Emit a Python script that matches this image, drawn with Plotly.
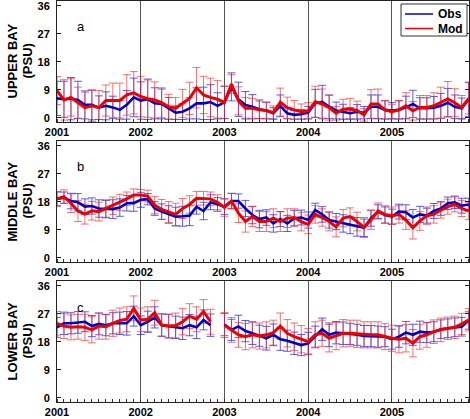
import plotly.graph_objects as go

# ---------------- data (monthly, Jan 2001 - Dec 2005) ----------------
years = [2001, 2002, 2003, 2004, 2005]
y_ticks = [0, 9, 18, 27, 36]
panel_titles = ["UPPER BAY", "MIDDLE BAY", "LOWER BAY"]
panel_letters = ["a", "b", "c"]
legend_names = ["Obs", "Mod"]

obs_upper = [6.3, 6.0, 6.2, 5.8, 4.2, 4.2, 3.3, 3.9, 3.4, 2.6, 4.2, 6.6,
             5.6, 6.0, 4.7, 4.5, 3.1, 1.7, 2.0, 3.1, 4.7, 4.7, 5.1, 3.9,
             5.0, 10.0, 6.0, 4.2, 3.6, 2.8, 2.4, 1.5, 3.9, 1.5, 1.0, 1.2,
             1.7, 4.7, 5.2, 3.6, 2.4, 2.0, 1.5, 2.0, 1.7, 3.6, 3.6, 2.6,
             2.4, 2.6, 3.4, 4.5, 3.1, 3.1, 3.3, 3.9, 4.9, 3.6, 3.1, 6.0]
obs_upper_err = [5.5, 5.8, 6.8, 6.0, 4.5, 4.8, 3.8, 4.5, 3.6, 3.0, 4.6, 6.2,
                 6.0, 6.5, 5.0, 4.8, 3.5, 2.2, 2.5, 3.4, 5.0, 5.2, 5.6, 4.2,
                 5.2, 4.5, 5.5, 4.3, 3.9, 3.0, 2.7, 1.8, 3.5, 1.8, 1.4, 1.5,
                 2.0, 4.5, 5.3, 3.8, 2.7, 2.4, 1.8, 2.3, 2.0, 3.8, 3.8, 2.9,
                 2.6, 2.9, 3.6, 4.4, 3.4, 3.4, 3.6, 4.0, 4.6, 3.8, 3.3, 5.5]
mod_upper = [8.8, 5.8, 6.6, 4.9, 3.3, 3.9, 3.3, 5.6, 5.7, 5.6, 7.4, 8.1,
             6.9, 6.2, 5.8, 4.9, 3.6, 3.1, 4.7, 6.3, 9.7, 7.4, 6.6, 6.0,
             5.0, 10.9, 5.5, 3.1, 3.1, 2.6, 2.4, 1.7, 5.1, 3.3, 2.6, 2.0,
             2.3, 5.2, 4.5, 3.3, 1.5, 2.8, 2.9, 2.4, 1.0, 4.5, 4.5, 2.6,
             2.0, 2.6, 3.9, 2.3, 3.4, 3.4, 3.9, 4.9, 6.1, 4.9, 3.4, 6.3]
mod_upper_err = [4.5, 6.5, 6.0, 5.0, 5.0, 5.0, 5.5, 5.0, 5.5, 5.6, 6.5, 6.8,
                 6.5, 6.0, 5.8, 4.8, 4.0, 3.5, 4.5, 5.2, 6.5, 6.0, 6.2, 6.0,
                 5.2, 3.0, 4.5, 3.5, 3.2, 2.8, 2.6, 2.2, 4.5, 3.4, 3.0, 2.5,
                 2.6, 5.0, 4.8, 4.0, 2.2, 3.2, 3.4, 3.0, 2.0, 4.6, 4.8, 3.0,
                 2.4, 3.0, 4.2, 3.0, 3.8, 3.8, 4.2, 5.0, 5.6, 4.5, 3.8, 5.0]

obs_middle = [19.0, 19.4, 18.3, 17.9, 16.5, 16.7, 15.9, 15.7, 15.7, 16.2, 17.6, 17.6,
              18.7, 18.9, 15.9, 14.9, 14.0, 13.3, 13.4, 13.6, 16.5, 15.1, 17.9, 17.2,
              16.5, 18.3, 18.3, 15.9, 13.8, 12.5, 13.0, 11.1, 12.5, 11.1, 12.8, 13.0,
              12.2, 15.4, 14.0, 12.2, 11.7, 11.1, 10.6, 10.0, 9.7, 12.8, 14.9, 13.8,
              13.3, 14.9, 14.7, 13.0, 14.0, 13.6, 15.1, 15.9, 17.6, 17.9, 16.8, 17.2]
obs_middle_err = [2.2, 1.8, 2.5, 2.8, 2.5, 2.6, 2.8, 2.8, 3.0, 2.8, 2.5, 2.6,
                  2.4, 1.8, 2.2, 2.5, 2.8, 3.0, 3.2, 3.2, 2.4, 2.8, 2.4, 2.2,
                  2.5, 2.5, 2.3, 2.6, 2.8, 2.8, 2.5, 2.8, 2.4, 2.6, 2.5, 2.4,
                  2.6, 2.2, 2.5, 2.6, 2.6, 2.8, 2.8, 3.0, 2.8, 2.6, 2.2, 2.6,
                  2.4, 2.4, 2.4, 2.6, 2.6, 2.4, 2.4, 2.2, 2.0, 2.0, 2.4, 2.0]
mod_middle = [19.0, 19.7, 17.6, 15.1, 14.1, 15.2, 14.9, 15.9, 16.8, 17.9, 19.0, 20.2,
              20.2, 19.9, 17.0, 15.6, 14.7, 14.0, 15.9, 17.2, 19.2, 19.2, 19.0, 17.9,
              16.2, 18.3, 14.4, 11.7, 13.3, 11.7, 11.7, 12.8, 11.7, 12.8, 13.0, 11.7,
              10.8, 14.0, 13.0, 11.7, 10.0, 12.8, 13.3, 11.7, 9.8, 12.2, 15.1, 14.0,
              13.6, 14.0, 12.2, 9.7, 11.9, 13.6, 14.0, 15.4, 16.5, 17.2, 15.9, 15.1]
mod_middle_err = [2.4, 2.2, 3.0, 3.4, 3.2, 3.0, 3.0, 2.8, 2.8, 2.6, 2.2, 2.0,
                  1.8, 1.9, 2.8, 3.2, 3.4, 3.6, 3.2, 2.8, 2.2, 2.2, 2.2, 2.4,
                  2.8, 2.4, 3.0, 3.4, 3.2, 3.2, 3.2, 3.0, 3.2, 3.0, 2.8, 3.0,
                  3.0, 2.8, 2.8, 3.0, 3.2, 2.8, 2.8, 3.0, 3.2, 3.0, 2.6, 2.8,
                  2.8, 2.8, 3.0, 3.6, 3.0, 2.8, 2.8, 2.6, 2.4, 2.4, 2.6, 2.8]

obs_lower = [22.7, 24.0, 24.0, 24.3, 24.5, 23.1, 23.8, 23.4, 24.0, 24.0, 24.0, 26.3,
             23.4, 24.5, 25.9, 23.4, 23.1, 22.7, 22.4, 23.4, 22.7, 25.1, 23.4, None,
             23.6, 21.9, 23.0, 21.5, 20.8, 20.0, 19.2, 20.3, 18.9, 18.4, 17.6, 17.0,
             17.6, 19.7, 22.1, 20.3, 21.0, 20.8, 20.6, 20.3, 19.9, 19.9, 19.7, 19.7,
             18.9, 19.7, 21.0, 20.3, 21.3, 21.0, 21.3, 22.1, 22.4, 22.7, 22.9, 24.9]
obs_lower_err = [3.2, 3.6, 3.4, 3.5, 3.2, 3.4, 3.5, 3.4, 3.4, 3.6, 3.8, 3.2,
                 3.0, 3.4, 3.4, 3.6, 3.8, 3.6, 3.6, 3.4, 3.6, 3.2, 3.6, 0.0,
                 3.6, 3.4, 3.6, 3.4, 3.6, 3.4, 3.8, 3.5, 3.6, 3.4, 3.6, 3.4,
                 3.5, 3.4, 3.6, 3.8, 3.6, 3.6, 3.4, 3.4, 3.4, 3.4, 3.4, 3.2,
                 3.2, 3.4, 3.6, 3.4, 3.4, 3.2, 3.2, 3.0, 3.0, 3.0, 3.0, 2.8]
mod_lower = [24.0, 23.1, 22.7, 22.9, 22.7, 21.9, 23.1, 22.9, 24.0, 24.9, 25.3, 28.8,
             25.1, 25.3, 27.4, 23.5, 23.1, 23.3, 24.5, 26.3, 25.3, 27.8, 24.5, None,
             23.4, 21.9, 20.3, 19.7, 20.3, 19.9, 20.3, 21.0, 23.1, 20.8, 19.7, 18.9,
             18.1, 20.3, 20.8, 19.2, 19.9, 20.8, 20.8, 20.6, 20.3, 20.3, 20.3, 19.7,
             19.2, 18.9, 19.2, 17.6, 19.7, 20.3, 21.3, 21.9, 22.4, 22.7, 23.8, 25.1]
mod_lower_err = [3.8, 4.0, 4.0, 4.0, 4.2, 4.2, 4.2, 4.0, 4.2, 4.0, 4.0, 4.0,
                 3.8, 4.0, 4.0, 3.6, 3.8, 4.0, 4.2, 4.0, 4.0, 3.8, 4.0, 0.0,
                 4.0, 4.0, 4.0, 4.2, 4.2, 4.2, 4.2, 4.0, 4.2, 4.4, 4.4, 4.4,
                 4.2, 4.2, 4.2, 4.4, 4.4, 4.4, 4.2, 4.4, 4.2, 4.2, 4.2, 4.2,
                 4.2, 4.4, 4.4, 4.4, 4.0, 4.0, 3.8, 3.8, 3.6, 3.6, 3.4, 3.6]

months = [2001 + m / 12 for m in range(60)]

panels = [
    (obs_upper, obs_upper_err, mod_upper, mod_upper_err),
    (obs_middle, obs_middle_err, mod_middle, mod_middle_err),
    (obs_lower, obs_lower_err, mod_lower, mod_lower_err),
]

BLUE = "#0000C8"
RED = "#EE0000"
BLUE_ERR = "rgba(40,40,230,0.75)"
RED_ERR = "rgba(240,40,40,0.65)"
FONT = "Arial, Liberation Sans, sans-serif"

W, H = 470, 419
L, R, T, B = 57, 1, 1, 17
ph = H - T - B
pw = W - L - R


def py(px):
    return (H - B - px) / ph


def pxx(px):
    return (px - L) / pw


fig = go.Figure()

for k, (obs, obs_err, mod, mod_err) in enumerate(panels):
    xa = "x" if k == 0 else f"x{k+1}"
    ya = "y" if k == 0 else f"y{k+1}"
    for vals, errs, col in ((obs, obs_err, BLUE_ERR), (mod, mod_err, RED_ERR)):
        fig.add_trace(go.Scatter(
            x=months, y=vals, mode="markers",
            marker=dict(size=1, color="rgba(0,0,0,0)"),
            error_y=dict(type="data", array=errs, visible=True,
                         color=col, thickness=1, width=4),
            xaxis=xa, yaxis=ya, showlegend=False, hoverinfo="skip"))
    fig.add_trace(go.Scatter(
        x=months, y=obs, mode="lines", name=legend_names[0],
        line=dict(color=BLUE, width=2.6), connectgaps=False,
        xaxis=xa, yaxis=ya, showlegend=False))
    fig.add_trace(go.Scatter(
        x=months, y=mod, mode="lines", name=legend_names[1],
        line=dict(color=RED, width=3), connectgaps=False,
        xaxis=xa, yaxis=ya, showlegend=False))

domains = [(py(122), 1.0), (py(262), py(141)), (0.0, py(281))]

layout = dict(
    width=W, height=H,
    margin=dict(l=L, r=R, t=T, b=B, autoexpand=False),
    paper_bgcolor="white", plot_bgcolor="white",
    font=dict(family=FONT, size=11, color="black"),
    showlegend=False,
)

for k in range(3):
    xs = "xaxis" if k == 0 else f"xaxis{k+1}"
    ys = "yaxis" if k == 0 else f"yaxis{k+1}"
    ya = "y" if k == 0 else f"y{k+1}"
    xa = "x" if k == 0 else f"x{k+1}"
    layout[xs] = dict(
        domain=[0, 1], anchor=ya, range=[2001, 2005.92], automargin=False,
        tickvals=years, ticktext=[str(y) for y in years],
        tickfont=dict(size=11, weight="bold"), ticklabeloverflow="allow",
        ticks="", showgrid=True, gridcolor="#555", gridwidth=1,
        showline=True, linecolor="#222", linewidth=1, mirror=True,
        minor=dict(dtick=1 / 12, tick0=2001, ticks="inside", ticklen=3,
                   tickcolor="#333", showgrid=False),
        zeroline=False,
    )
    layout[ys] = dict(
        domain=list(domains[k]), anchor=xa, range=[-1.3, 37.6], automargin=False,
        tickvals=y_ticks, tickfont=dict(size=11, weight="bold"),
        ticklabeloverflow="allow",
        ticks="inside", ticklen=4, tickcolor="#222",
        showgrid=False, zeroline=False,
        showline=True, linecolor="#222", linewidth=1, mirror="ticks",
        ticklabelstandoff=4,
    )

fig.update_layout(**layout)

letter_y = [py(26), py(166), py(307)]
center_y = [py(61.5), py(201.5), py(341.5)]

for k in range(3):
    fig.add_annotation(x=pxx(80.5), y=letter_y[k], xref="paper", yref="paper",
                       text=panel_letters[k], showarrow=False,
                       xanchor="center", yanchor="middle",
                       font=dict(size=13, family=FONT))
    fig.add_annotation(x=pxx(12), y=center_y[k], xref="paper", yref="paper",
                       text="<b>" + panel_titles[k] + "</b>", textangle=-90,
                       xanchor="center", yanchor="middle",
                       showarrow=False, font=dict(size=13, family=FONT))
    fig.add_annotation(x=pxx(27), y=center_y[k], xref="paper", yref="paper",
                       text="<b>(PSU)</b>", textangle=-90,
                       xanchor="center", yanchor="middle",
                       showarrow=False, font=dict(size=13, family=FONT))

# legend box (top panel)
fig.add_shape(type="rect", xref="paper", yref="paper",
              x0=pxx(401), x1=pxx(467), y0=py(36), y1=py(4),
              line=dict(color="#333", width=1), fillcolor="white", layer="above")
for name, col, ypx in ((legend_names[0], BLUE, 14), (legend_names[1], RED, 28.5)):
    fig.add_shape(type="line", xref="paper", yref="paper",
                  x0=pxx(405), x1=pxx(433), y0=py(ypx), y1=py(ypx),
                  line=dict(color=col, width=1.5), layer="above")
    fig.add_annotation(x=pxx(436), y=py(ypx), xref="paper", yref="paper",
                       text="<b>" + name + "</b>", showarrow=False,
                       xanchor="left", yanchor="middle",
                       font=dict(size=12, family=FONT))

fig.write_html("out.html",
               config={"displayModeBar": False},
               post_script="document.body.style.margin='0';"
                           "document.body.style.overflow='hidden';")
